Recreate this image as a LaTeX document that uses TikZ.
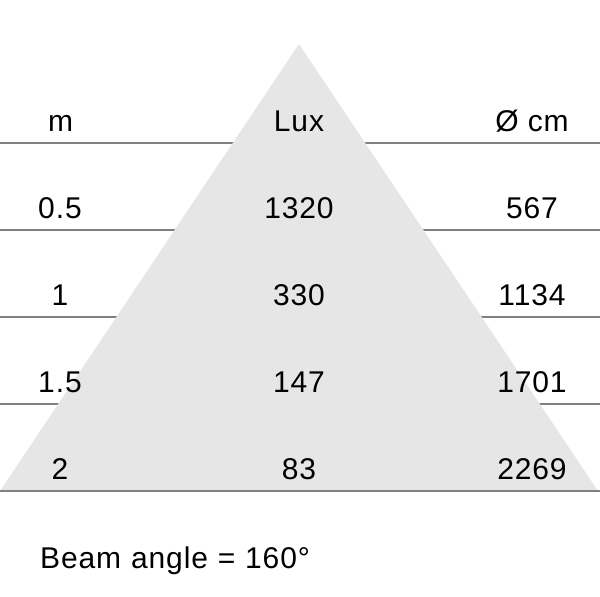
\documentclass[tikz,border=0pt]{standalone}
\usepackage{fontspec}
\setmainfont[LetterSpace=3.0]{Liberation Sans}
\definecolor{rulegray}{HTML}{808080}
\definecolor{beamgray}{HTML}{E6E6E6}
\begin{document}
\begin{tikzpicture}[x=1pt,y=-1pt,
  rowline/.style={draw=rulegray,line width=2pt},
  lbl/.style={anchor=base,inner sep=0pt,font=\fontsize{30}{36}\selectfont}]
\useasboundingbox (0,0) rectangle (600,597);
\foreach \y in {143,230,317,404}{
  \draw[rowline] (0,\y) -- (600,\y);
}
\coordinate (apex) at (299,44);
\coordinate (bl) at (0,491);
\coordinate (br) at (598,491);
\fill[beamgray] (apex) -- (bl) -- (br) -- cycle;
\draw[rowline] (0,491) -- (600,491);
% header
\node[lbl] (hm) at (60.5,131) {m};
\node[lbl] (hlux) at (299,131) {Lux};
\node[lbl] (hd) at (532,131) {Ø cm};
% rows
\node[lbl] (m1) at (60,218) {0.5};
\node[lbl] (l1) at (299,218) {1320};
\node[lbl] (d1) at (532,218) {567};
\node[lbl] (m2) at (60,305) {1};
\node[lbl] (l2) at (299,305) {330};
\node[lbl] (d2) at (532,305) {1134};
\node[lbl] (m3) at (60,392) {1.5};
\node[lbl] (l3) at (299,392) {147};
\node[lbl] (d3) at (532,392) {1701};
\node[lbl] (m4) at (60,479) {2};
\node[lbl] (l4) at (299,479) {83};
\node[lbl] (d4) at (532,479) {2269};
\node[lbl,anchor=base west] (beam) at (40,568) {\spaceskip=9.8pt Beam angle = 160°};
\end{tikzpicture}
\end{document}
